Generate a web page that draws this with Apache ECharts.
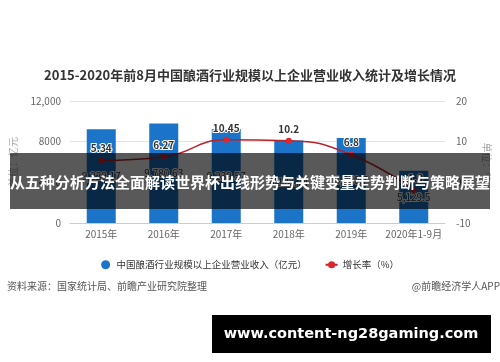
<!DOCTYPE html>
<html><head><meta charset="utf-8">
<script src="https://cdn.jsdelivr.net/npm/echarts@6/dist/echarts.min.js"></script>
<style>html,body{margin:0;padding:0;background:#fff}#c{width:500px;height:362px}</style>
</head><body><div id="c"></div>
<script>
var categories = ['2015年','2016年','2017年','2018年','2019年','2020年1-9月'];
var revenue = [9229.17, 9780.63, 9239.57, 8122.74, 8350.7, 5129.5];
var growth = [5.34, 6.27, 10.45, 10.2, 6.8, -1.9];
var leftTicks = [0, 4000, 8000, 12000];
var rightTicks = [-10, 0, 10, 20];
var titleText = '2015-2020年前8月中国酿酒行业规模以上企业营业收入统计及增长情况';
var barName = '中国酿酒行业规模以上企业营业收入（亿元）';
var lineName = '增长率（%）';
var sourceText = '资料来源：国家统计局、前瞻产业研究院整理';
var creditText = '@前瞻经济学人APP';
var bandText = '从五种分析方法全面解读世界杯出线形势与关键变量走势判断与策略展望';
var urlText = 'www.content-ng28gaming.com';

var FONT = '"Noto Sans CJK SC", "Noto Sans", sans-serif';
function fmt(v){ return v.toLocaleString('en-US', {maximumFractionDigits: 2}); }

var chart = echarts.init(document.getElementById('c'), null, {renderer: 'canvas'});
chart.setOption({
  animation: false,
  textStyle: {fontFamily: FONT},
  title: {
    text: titleText, left: 'center', top: 64,
    textStyle: {fontSize: 13, fontWeight: 'bold', color: '#333', fontFamily: FONT}
  },
  grid: {left: 66, right: 55, top: 101, bottom: 139},
  legend: {
    top: 255, left: 'center', itemGap: 18, itemWidth: 12, itemHeight: 9,
    textStyle: {fontSize: 9.5, color: '#333', fontFamily: FONT},
    data: [{name: barName, icon: 'circle'}, {name: lineName}]
  },
  xAxis: {
    type: 'category', data: categories,
    axisLine: {lineStyle: {color: '#cccccc'}},
    axisTick: {alignWithLabel: true, lineStyle: {color: '#cccccc'}, length: 4},
    axisLabel: {color: '#666', fontSize: 10, margin: 6, interval: 0, fontFamily: FONT}
  },
  yAxis: [{
    type: 'value', min: leftTicks[0], max: leftTicks[leftTicks.length-1], interval: 4000,
    name: '单位：亿元', nameLocation: 'middle', nameRotate: 90, nameGap: 52,
    nameTextStyle: {color: '#aaa', fontSize: 10, fontFamily: FONT},
    axisLine: {show: false}, axisTick: {show: false},
    axisLabel: {color: '#666', fontSize: 10, margin: 9,
      formatter: function(v){ return v >= 10000 ? fmt(v) : String(v); }},
    splitLine: {lineStyle: {color: '#e3e3e3'}}
  }, {
    type: 'value', min: rightTicks[0], max: rightTicks[rightTicks.length-1], interval: 10,
    name: '单位：%', nameLocation: 'middle', nameRotate: -90, nameGap: 36,
    nameTextStyle: {color: '#aaa', fontSize: 10, fontFamily: FONT},
    axisLine: {show: false}, axisTick: {show: false},
    axisLabel: {color: '#666', fontSize: 10, margin: 11},
    splitLine: {show: false}
  }],
  series: [{
    name: barName, type: 'bar', data: revenue, barWidth: 29,
    itemStyle: {color: '#1c74c8'},
    label: {show: true, position: 'inside', color: '#333', fontSize: 10,
      textBorderColor: '#fff', textBorderWidth: 2,
      formatter: function(p){ return fmt(p.value); }}
  }, {
    name: lineName, type: 'line', yAxisIndex: 1, data: growth, smooth: true,
    symbol: 'circle', symbolSize: 6,
    lineStyle: {color: '#b8232b', width: 1.5},
    itemStyle: {color: '#e0262c'},
    label: {show: true, position: 'top', distance: 4, color: '#333', fontSize: 10,
      fontWeight: 'bold', textBorderColor: '#fff', textBorderWidth: 2}
  }],
  graphic: [
    {type: 'text', left: 7, top: 281, style: {text: sourceText, fill: '#555', fontSize: 10, fontFamily: FONT}},
    {type: 'text', right: 0, top: 281, style: {text: creditText, fill: '#555', fontSize: 10, fontFamily: FONT}},
    {type: 'rect', shape: {x: 10, y: 153, width: 480, height: 56}, style: {fill: 'rgba(0,0,0,0.65)'}, z: 100},
    {type: 'text', x: 250, y: 182, z: 101, style: {text: bandText, fill: '#fff', fontSize: 15, fontWeight: 'bold', fontFamily: FONT, align: 'center', verticalAlign: 'middle'}},
    {type: 'rect', shape: {x: 212, y: 315, width: 279, height: 38}, style: {fill: '#000'}, z: 100},
    {type: 'text', x: 351, y: 334, z: 101, style: {text: urlText, fill: '#fff', fontSize: 14.5, fontWeight: 'bold', fontFamily: '"DejaVu Sans", sans-serif', align: 'center', verticalAlign: 'middle'}}
  ]
});
</script></body></html>
